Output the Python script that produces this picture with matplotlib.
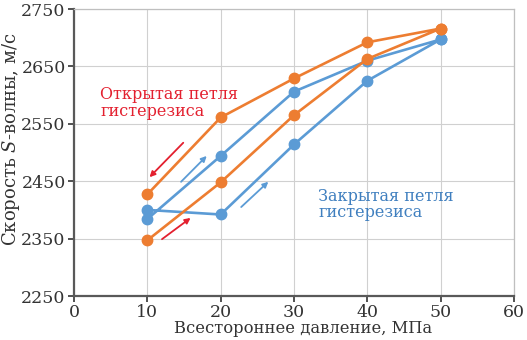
import matplotlib
matplotlib.use("Agg")
from matplotlib import pyplot as plt

# давление, МПа
pressure = [10, 20, 30, 40, 50]

# открытая петля (оранжевая): нагружение и разгрузка
open_load = [2347, 2448, 2565, 2663, 2716]
open_unload = [2716, 2692, 2629, 2561, 2427]

# закрытая петля (синяя)
closed_load = [2400, 2392, 2514, 2625, 2697]
closed_unload = [2697, 2660, 2606, 2494, 2384]

x_ticks = [0, 10, 20, 30, 40, 50, 60]
y_ticks = [2250, 2350, 2450, 2550, 2650, 2750]

# стрелки направлений: (хвост, голова)
red_arrows = [((14.9, 2517), (10.3, 2457)), ((12.0, 2349), (15.9, 2386))]
blue_arrows = [((14.6, 2449), (18.1, 2494)), ((22.8, 2405), (26.5, 2449))]

ORANGE = "#ED7D31"
BLUE = "#5B9BD5"
RED = "#E3202F"
TXT = "#333333"

plt.rcParams["font.family"] = ["DejaVu Serif"]
plt.rcParams["mathtext.fontset"] = "dejavuserif"

fig = plt.figure(figsize=(5.27, 3.4), dpi=100)
ax = fig.add_axes([0.1404, 0.1294, 0.8349, 0.8441])

ax.plot(pressure + pressure[::-1], open_load + open_unload,
        color=ORANGE, lw=1.9, marker="o", ms=7.5, zorder=3)
ax.plot(pressure + pressure[::-1], closed_load + closed_unload,
        color=BLUE, lw=1.9, marker="o", ms=7.5, zorder=2)

for (t, h) in red_arrows:
    ax.annotate("", xy=h, xytext=t,
                arrowprops=dict(arrowstyle="-|>", color=RED, lw=1.3,
                                mutation_scale=8, shrinkA=0, shrinkB=0))
for (t, h) in blue_arrows:
    ax.annotate("", xy=h, xytext=t,
                arrowprops=dict(arrowstyle="-|>", color=BLUE, lw=1.3,
                                mutation_scale=8, shrinkA=0, shrinkB=0))

ax.text(3.6, 2615, "Открытая петля\nгистерезиса", color=RED, fontsize=11.5,
        linespacing=0.95, va="top", ha="left")
ax.text(33.3, 2438, "Закрытая петля\nгистерезиса", color="#3F7FBF",
        fontsize=11.5, linespacing=0.95, va="top", ha="left")

ax.set_xlim(0, 60)
ax.set_ylim(2250, 2750)
ax.set_xticks(x_ticks)
ax.set_yticks(y_ticks)
ax.grid(True, color="#D0D0D0", lw=0.8)
ax.set_axisbelow(True)

for s in ["left", "bottom"]:
    ax.spines[s].set_color("#595959")
    ax.spines[s].set_linewidth(1.6)
for s in ["top", "right"]:
    ax.spines[s].set_color("#BFBFBF")
    ax.spines[s].set_linewidth(0.9)

ax.tick_params(axis="both", labelsize=12.5, colors=TXT, length=4,
               width=1.2, direction="out", pad=2)
ax.set_xlabel("Всестороннее давление, МПа", fontsize=11.8, color=TXT,
              labelpad=0)
ax.xaxis.set_label_coords(0.52, -0.085)
ax.set_ylabel("Скорость $S$-волны, м/с", fontsize=13, color=TXT)
ax.yaxis.set_label_coords(-0.118, 0.545)

fig.savefig("out.png", dpi=100)
